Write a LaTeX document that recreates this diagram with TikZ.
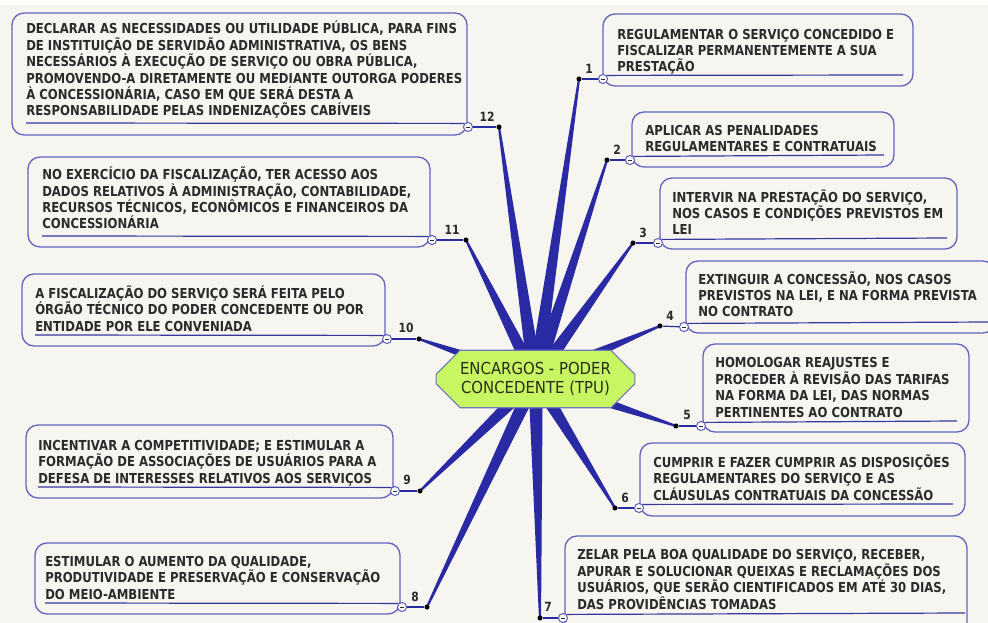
\documentclass[tikz,border=0pt]{standalone}
\usepackage{fontspec}
\usetikzlibrary{calc,fit,shapes.misc}
\newfontfamily\cardfont{DejaVu Sans}[FakeStretch=0.85]
\newfontfamily\hubfont{DejaVu Sans}[FakeStretch=0.9]
\definecolor{paper}{HTML}{F6F5F0}
\definecolor{spoke}{RGB}{42,42,165}
\definecolor{frame}{RGB}{100,100,190}
\definecolor{rulec}{RGB}{55,55,160}
\definecolor{ink}{HTML}{2B2B2B}
\definecolor{hubfill}{RGB}{200,246,98}
\definecolor{hubline}{RGB}{110,120,180}
\definecolor{hubink}{HTML}{2A2E1C}
\pgfdeclarelayer{paperlayer}
\pgfdeclarelayer{wires}
\pgfsetlayers{paperlayer,wires,main}

% tapered branch from the central topic to a junction dot
\newcommand\spoketo[1]{%
  \fill[spoke] ($(hub.center)!5.4pt!90:(#1)$) -- ($(#1)!0.8pt!-90:(hub.center)$)
    -- ($(#1)!0.8pt!90:(hub.center)$) -- ($(hub.center)!5.4pt!-90:(#1)$) -- cycle;}

\tikzset{
  card/.style={draw=frame, line width=1pt, rounded corners=9pt, inner sep=0pt},
  % texts are placed by the baseline of their last line
  txt/.style={font={\cardfont\bfseries\fontsize{10.3pt}{12.3pt}\selectfont}, text=ink,
    align=left, inner sep=0pt, anchor=base west},
  knob/.style={circle, draw=frame, fill=white, line width=0.8pt, minimum size=6.8pt,
    inner sep=0pt, path picture={\draw[ink, line width=0.7pt]
      ([xshift=-1.7pt]path picture bounding box.center) --
      ([xshift=1.7pt]path picture bounding box.center);}},
  pip/.style={circle, fill=black, minimum size=3.8pt, inner sep=0pt},
  num/.style={font={\cardfont\bfseries\fontsize{9.5pt}{10pt}\selectfont}, text=ink, inner sep=0pt},
  stem/.style={draw=spoke, line width=0.9pt},
  rulestyle/.style={draw=rulec, line width=0.9pt},
  hubstyle/.style={chamfered rectangle, chamfered rectangle sep=9pt, draw=hubline,
    line width=0.8pt, fill=hubfill, minimum width=149pt, minimum height=40.5pt,
    inner sep=0pt, align=center, text=hubink,
    font={\hubfont\fontsize{12.4pt}{14.3pt}\selectfont}}
}

\begin{document}
\begin{tikzpicture}[x=0.75pt, y=-0.75pt]
\useasboundingbox (0,0) rectangle (988,623);
\begin{pgfonlayer}{paperlayer}
  \fill[paper] (0,0) rectangle (988,623);
  \fill[white] (0,0) rectangle (988,5);
\end{pgfonlayer}

% central topic
\node[hubstyle] (hub) at (535.5,379) {ENCARGOS - PODER\\CONCEDENTE (TPU)};

% topic frames
\node[card, fit={(603,14) (913,86)}] (b1) {};
\node[card, fit={(632,112) (894,167)}] (b2) {};
\node[card, fit={(660,178) (957,249)}] (b3) {};
\node[card, fit={(686,261) (995,333)}] (b4) {};
\node[card, fit={(703,344) (969,432)}] (b5) {};
\node[card, fit={(640,443) (965,516)}] (b6) {};
\node[card, fit={(565,536) (967,640)}] (b7) {};
\node[card, fit={(35,543) (400,614)}] (b8) {};
\node[card, fit={(26,425) (393,498)}] (b9) {};
\node[card, fit={(22,274) (385,346)}] (b10) {};
\node[card, fit={(28,157) (430,247)}] (b11) {};
\node[card, fit={(12,13) (467,135)}] (b12) {};

% topic texts
\node[txt] (t1) at (617,72) {REGULAMENTAR O SERVIÇO CONCEDIDO E\\FISCALIZAR PERMANENTEMENTE A SUA\\PRESTAÇÃO};
\node[txt] (t2) at (645,152) {APLICAR AS PENALIDADES\\REGULAMENTARES E CONTRATUAIS};
\node[txt] (t3) at (672,235) {INTERVIR NA PRESTAÇÃO DO SERVIÇO,\\NOS CASOS E CONDIÇÕES PREVISTOS EM\\LEI};
\node[txt] (t4) at (698,317) {EXTINGUIR A CONCESSÃO, NOS CASOS\\PREVISTOS NA LEI, E NA FORMA PREVISTA\\NO CONTRATO};
\node[txt] (t5) at (715,417) {HOMOLOGAR REAJUSTES E\\PROCEDER À REVISÃO DAS TARIFAS\\NA FORMA DA LEI, DAS NORMAS\\PERTINENTES AO CONTRATO};
\node[txt] (t6) at (653,500) {CUMPRIR E FAZER CUMPRIR AS DISPOSIÇÕES\\REGULAMENTARES DO SERVIÇO E AS\\CLÁUSULAS CONTRATUAIS DA CONCESSÃO};
\node[txt] (t7) at (577,609) {ZELAR PELA BOA QUALIDADE DO SERVIÇO, RECEBER,\\APURAR E SOLUCIONAR QUEIXAS E RECLAMAÇÕES DOS\\USUÁRIOS, QUE SERÃO CIENTIFICADOS EM ATÉ 30 DIAS,\\DAS PROVIDÊNCIAS TOMADAS};
\node[txt] (t8) at (45,599) {ESTIMULAR O AUMENTO DA QUALIDADE,\\PRODUTIVIDADE E PRESERVAÇÃO E CONSERVAÇÃO\\DO MEIO-AMBIENTE};
\node[txt] (t9) at (38,483) {INCENTIVAR A COMPETITIVIDADE; E ESTIMULAR A\\FORMAÇÃO DE ASSOCIAÇÕES DE USUÁRIOS PARA A\\DEFESA DE INTERESSES RELATIVOS AOS SERVIÇOS};
\node[txt] (t10) at (35,331) {A FISCALIZAÇÃO DO SERVIÇO SERÁ FEITA PELO\\ÓRGÃO TÉCNICO DO PODER CONCEDENTE OU POR\\ENTIDADE POR ELE CONVENIADA};
\node[txt] (t11) at (42,229) {NO EXERCÍCIO DA FISCALIZAÇÃO, TER ACESSO AOS\\DADOS RELATIVOS À ADMINISTRAÇÃO, CONTABILIDADE,\\RECURSOS TÉCNICOS, ECONÔMICOS E FINANCEIROS DA\\CONCESSIONÁRIA};
\node[txt] (t12) at (26,116) {DECLARAR AS NECESSIDADES OU UTILIDADE PÚBLICA, PARA FINS\\DE INSTITUIÇÃO DE SERVIDÃO ADMINISTRATIVA, OS BENS\\NECESSÁRIOS À EXECUÇÃO DE SERVIÇO OU OBRA PÚBLICA,\\PROMOVENDO-A DIRETAMENTE OU MEDIANTE OUTORGA PODERES\\À CONCESSIONÁRIA, CASO EM QUE SERÁ DESTA A\\RESPONSABILIDADE PELAS INDENIZAÇÕES CABÍVEIS};

% collapse knobs
\foreach \i/\x/\y in {1/603/79, 2/630/160, 3/658/243, 4/684/327, 5/701/426, 6/639/508,
  7/563/618, 8/402/607, 9/395/491, 10/387/339, 11/432/240, 12/468/127}
  \node[knob] (c\i) at (\x,\y) {};

% junction dots
\foreach \i/\x/\y in {1/579/79, 2/607/160, 3/633/243, 4/660/326, 5/676/426, 6/615/508,
  7/540/618, 8/427/607, 9/420/491, 10/419/339, 11/466/240, 12/499/127}
  \node[pip] (d\i) at (\x,\y) {};

% branch numbers
\foreach \i/\x/\y in {1/589/69, 2/617/150, 3/643/233, 4/670/316, 5/687/415, 6/625/498,
  7/548/607, 8/415/597, 9/407/480, 10/406/328, 11/452/230, 12/487/117}
  \node[num] (n\i) at (\x,\y) {\i};

% underline ends
\coordinate (u1) at (903,75);
\coordinate (u2) at (884,155);
\coordinate (u3) at (947,238);
\coordinate (u4) at (990,322);
\coordinate (u5) at (957,421);
\coordinate (u6) at (953,504);
\coordinate (u7) at (965,613);
\coordinate (u8) at (45,603);
\coordinate (u9) at (38,487);
\coordinate (u10) at (35,335);
\coordinate (u11) at (42,236);
\coordinate (u12) at (26,123);

\begin{pgfonlayer}{wires}
  \foreach \i in {1,...,12} {
    \spoketo{d\i}
    \draw[stem] (d\i) -- (c\i);
  }
  \foreach \i in {1,...,7}
    \draw[rulestyle] (c\i.north east) -- (u\i);
  \foreach \i in {8,...,12}
    \draw[rulestyle] (c\i.north west) -- (u\i);
\end{pgfonlayer}
\end{tikzpicture}
\end{document}
